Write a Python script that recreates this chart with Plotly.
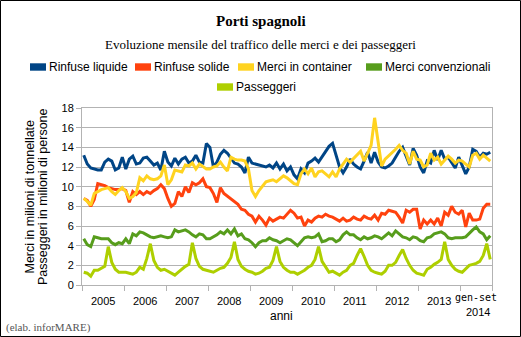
import plotly.graph_objects as go

# ---------------- data (monthly, Jan 2005 .. Sep 2014) ----------------
year_labels = ["2005", "2006", "2007", "2008", "2009", "2010", "2011", "2012", "2013"]
last_label_top = "gen-set"
last_label_bottom = "2014"
y_ticks = [0, 2, 4, 6, 8, 10, 12, 14, 16, 18]

series_names = ["Rinfuse liquide", "Rinfuse solide", "Merci in container",
                "Merci convenzionali", "Passeggeri"]

rinfuse_liquide = [
    13.2, 12.3, 11.9, 11.8, 11.7, 11.7, 12.5, 12.8, 12.6, 11.7, 11.9, 13.0,
    11.8, 12.8, 13.1, 12.3, 12.4, 12.9, 13.0, 12.6, 12.2, 12.4, 11.7, 13.6,
    12.5, 12.1, 12.9, 12.3, 12.8, 13.0, 12.4, 12.6, 13.2, 12.5, 12.4, 14.4,
    14.0, 12.0, 12.5, 13.3, 13.7, 13.4, 12.9, 12.4, 12.3, 12.0, 11.4, 13.0,
    12.4, 12.3, 12.2, 12.1, 12.0, 12.2, 11.9, 12.4, 11.8, 12.3, 11.6, 12.0,
    11.2, 10.8, 11.8, 11.4, 12.4, 12.6, 12.9, 12.5, 13.0, 13.6, 14.1, 14.4,
    13.2, 12.0, 11.4, 12.0, 12.8, 12.3, 12.0, 11.8, 12.6, 13.5, 12.4, 13.5,
    12.5, 12.0, 11.9, 12.1, 12.4, 13.0, 13.6, 14.0, 13.0, 12.2, 13.9, 13.2,
    12.0, 11.4, 12.6, 12.4, 13.7, 12.7, 13.7, 12.8, 13.0, 12.4, 11.9, 13.0,
    12.2, 11.3, 12.0, 13.8, 13.6, 13.0, 13.4, 13.3, 13.5,
]
rinfuse_solide = [
    8.8, 8.6, 8.0, 8.7, 10.3, 10.2, 10.1, 9.9, 9.8, 9.7, 9.7, 9.8,
    9.6, 8.4, 9.5, 9.2, 9.5, 9.2, 9.5, 9.3, 9.6, 9.8, 10.2, 9.8,
    8.8, 8.0, 8.3, 9.5, 9.0, 10.0, 9.4, 10.4, 10.2, 10.4, 10.8, 10.0,
    9.9, 9.3, 8.4, 9.9, 9.3, 9.0, 8.8, 8.5, 8.2, 7.7, 7.6, 7.2,
    7.0, 6.4, 7.0, 6.6, 6.1, 6.8, 6.5, 6.7, 6.9, 6.8, 7.2, 7.6,
    7.3, 6.8, 6.9, 6.0, 6.6, 6.4, 6.8, 7.0, 6.9, 7.2, 7.0, 6.9,
    6.7, 6.5, 6.8, 6.5, 6.6, 6.9, 6.7, 6.6, 7.0, 6.8, 6.7, 7.1,
    6.6, 7.3, 7.2, 7.6, 7.5, 7.4, 6.9, 6.3, 7.6, 7.4, 7.7, 7.7,
    5.7, 6.6, 6.2, 6.6, 6.2, 6.8, 6.0, 7.4, 7.1, 8.0, 7.4, 7.2,
    7.6, 5.9, 7.3, 6.6, 6.6, 6.7, 7.8, 8.2, 8.2,
]
merci_container = [
    8.8, 8.5, 8.1, 9.3, 9.5, 9.7, 9.8, 9.9, 9.5, 9.2, 9.6, 9.9,
    9.5, 8.8, 9.0, 9.4, 10.9, 10.6, 11.1, 10.8, 10.7, 10.8, 11.1, 12.2,
    10.2, 10.7, 11.7, 11.6, 11.5, 12.2, 12.1, 12.4, 11.8, 12.3, 12.0, 11.8,
    11.8, 12.0, 12.1, 12.5, 12.0, 11.6, 13.0, 12.8, 12.7, 12.7, 12.6, 11.8,
    9.6, 9.0, 9.6, 10.0, 10.5, 10.6, 10.7, 10.5, 10.8, 11.1, 10.9, 10.6,
    10.3, 10.2, 11.3, 11.8, 11.3, 11.9, 11.0, 11.5, 11.6, 11.3, 11.0, 11.5,
    11.0, 11.8, 12.3, 12.8, 12.5, 12.9, 13.2, 13.6, 12.6, 13.5, 14.2, 17.0,
    14.4, 12.1, 12.8, 13.1, 13.4, 13.8, 14.2, 13.7, 13.4, 12.3, 13.6, 12.8,
    12.7, 12.0, 12.2, 13.4, 12.7, 13.0, 12.3, 12.7, 13.1, 12.8, 12.4, 12.7,
    12.6, 12.3, 12.0, 13.2, 13.4, 12.8, 13.2, 12.9, 12.6,
]
merci_convenzionali = [
    4.7, 4.1, 3.9, 4.9, 4.8, 4.7, 4.7, 4.7, 4.3, 4.1, 4.3, 4.2,
    4.7, 4.2, 5.2, 5.0, 5.4, 5.3, 5.1, 4.9, 4.8, 4.9, 5.0, 4.9,
    4.8, 4.9, 5.6, 5.4, 5.5, 5.6, 5.4, 5.1, 4.9, 5.2, 5.1, 4.7,
    4.7, 4.9, 5.1, 5.4, 5.2, 5.6, 5.2, 5.7, 5.0, 5.2, 4.7, 4.6,
    4.3, 3.9, 4.3, 4.5, 4.5, 4.8, 4.6, 4.5, 4.3, 4.5, 4.7, 4.6,
    4.3, 4.0, 4.4, 4.8, 4.9, 4.8, 4.9, 5.2, 4.4, 4.5, 4.7, 4.7,
    4.4, 4.6, 5.1, 5.4, 5.1, 5.1, 4.8, 4.6, 4.9, 4.7, 4.8, 5.0,
    4.9, 4.7, 5.0, 5.3, 5.0, 5.5, 5.2, 4.9, 4.8, 4.6, 4.9, 4.8,
    4.5, 4.4, 4.8, 4.9, 5.2, 5.3, 5.4, 5.2, 4.8, 4.7, 4.8, 4.8,
    4.8, 4.9, 5.3, 5.6, 5.9, 5.4, 5.2, 4.6, 5.0,
]
passeggeri = [
    1.3, 1.2, 0.9, 1.5, 1.5, 1.7, 1.9, 3.9, 2.3, 1.6, 1.3, 1.3,
    1.3, 1.2, 1.1, 1.3, 1.8, 1.6, 2.7, 4.2, 2.5, 1.8, 1.5, 1.6,
    1.4, 1.2, 1.0, 1.3, 1.6, 1.9, 2.1, 4.3, 2.7, 1.9, 1.6, 1.5,
    1.4, 1.3, 1.5, 1.7, 1.8, 2.2, 2.8, 4.4, 2.6, 1.9, 1.6, 1.4,
    1.3, 1.1, 1.2, 1.4, 1.7, 1.8, 2.5, 3.9, 2.4, 1.8, 1.5, 1.3,
    1.3, 1.1, 1.3, 1.5, 1.8, 2.0, 2.6, 3.9, 2.4, 1.8, 1.3, 1.4,
    1.2, 1.0, 1.3, 1.5, 2.0, 2.2, 3.0, 3.7, 2.9, 2.0, 1.5, 1.3,
    1.2, 1.1, 1.4, 2.0, 2.0, 2.3, 3.0, 3.6, 2.7, 2.0, 1.5, 1.2,
    1.1, 1.0, 1.6, 1.8, 2.1, 2.3, 2.6, 4.4, 2.6, 2.0, 1.6, 1.4,
    1.3, 1.7, 2.0, 2.1, 2.2, 2.4, 3.0, 4.2, 2.6,
]

colors = ["#004586", "#ff420e", "#ffd320", "#579d1c", "#aecf00"]
all_series = [rinfuse_liquide, rinfuse_solide, merci_container,
              merci_convenzionali, passeggeri]

n_months = len(rinfuse_liquide)
months = list(range(n_months))

# ---------------- geometry helpers (pixel -> paper) ----------------
L, R, T, B = 82, 29, 108, 52
W, H = 521, 337
PW, PH = W - L - R, H - T - B


def px(x):
    return (x - L) / PW


def py(y):
    return (H - B - y) / PH


SANS = "Liberation Sans, Arial, sans-serif"
SERIF = "Liberation Serif, Times New Roman, serif"

fig = go.Figure()
for name, vals, col in zip(series_names, all_series, colors):
    fig.add_trace(go.Scatter(x=months, y=vals, mode="lines", name=name,
                             line=dict(color=col, width=3), showlegend=False))

# year boundaries for tick marks
boundaries = [-0.5 + 12 * k for k in range(10)] + [n_months - 0.5]

fig.update_layout(
    width=W, height=H,
    margin=dict(l=L, r=R, t=T, b=B),
    paper_bgcolor="white", plot_bgcolor="white",
    font=dict(family=SANS, size=11, color="#000000"),
    xaxis=dict(range=[-0.5, n_months - 0.5], tickvals=boundaries,
               showticklabels=False, ticks="outside", ticklen=5,
               tickcolor="#b3b3b3", showgrid=False, zeroline=False,
               showline=True, linecolor="#b3b3b3", linewidth=1, mirror=True),
    yaxis=dict(range=[0, 18], tickvals=y_ticks, ticks="outside", ticklen=5,
               tickcolor="#b3b3b3", showgrid=True, gridcolor="#b3b3b3",
               gridwidth=1, zeroline=False, showline=True,
               linecolor="#b3b3b3", linewidth=1, mirror=True,
               tickfont=dict(family=SANS, size=11, color="#000000")),
    showlegend=False,
)

ann = []
# titles
ann.append(dict(text="<b>Porti spagnoli</b>", x=px(260.5), y=py(21),
                font=dict(family=SERIF, size=15, color="#000")))
ann.append(dict(text="Evoluzione mensile del traffico delle merci e dei passeggeri",
                x=px(260.5), y=py(44), font=dict(family=SERIF, size=13, color="#000")))

# manual legend
shapes = []
legend_pos = [(30, 67), (135, 67), (238, 67), (366, 67), (217, 87)]
for (lx, ly), name, col in zip(legend_pos, series_names, colors):
    shapes.append(dict(type="rect", xref="paper", yref="paper",
                       x0=px(lx), x1=px(lx + 16), y0=py(ly - 3.7), y1=py(ly + 3.7),
                       fillcolor=col, line=dict(width=0)))
    ann.append(dict(text=name, x=px(lx + 16.5), y=py(ly), xanchor="left",
                    font=dict(family=SANS, size=12, color="#000")))

# y axis titles
ann.append(dict(text="Merci in milioni di tonnellate", x=px(29.5), y=py(197),
                textangle=-90, font=dict(family=SANS, size=12.5, color="#000")))
ann.append(dict(text="Passeggeri in milioni di persone", x=px(43), y=py(197),
                textangle=-90, font=dict(family=SANS, size=12.5, color="#000")))

# x labels (years)
for k, lab in enumerate(year_labels):
    ann.append(dict(text=lab, x=5.5 + 12 * k, xref="x", y=py(301),
                    font=dict(family=SANS, size=11, color="#000")))
ann.append(dict(text=last_label_top, x=112, xref="x", y=py(297.5),
                font=dict(family="DejaVu Sans Mono, monospace", size=10, color="#000")))
ann.append(dict(text=last_label_bottom, x=112.5, xref="x", y=py(312),
                font=dict(family=SANS, size=11, color="#000")))
ann.append(dict(text="anni", x=px(281), y=py(316),
                font=dict(family=SANS, size=12, color="#000")))
ann.append(dict(text="(elab. inforMARE)", x=px(4), y=py(327), xanchor="left",
                font=dict(family=SERIF, size=11, color="#555555")))

for a in ann:
    a.setdefault("xref", "paper")
    a["yref"] = "paper"
    a.setdefault("xanchor", "center")
    a["yanchor"] = "middle"
    a["showarrow"] = False

# outer border
shapes.append(dict(type="rect", xref="paper", yref="paper",
                   x0=px(0.5), x1=px(W - 0.5), y0=py(H - 0.5), y1=py(0.5),
                   line=dict(color="#000000", width=1), fillcolor="rgba(0,0,0,0)"))

fig.update_layout(annotations=ann, shapes=shapes)
fig.write_html("out.html")
